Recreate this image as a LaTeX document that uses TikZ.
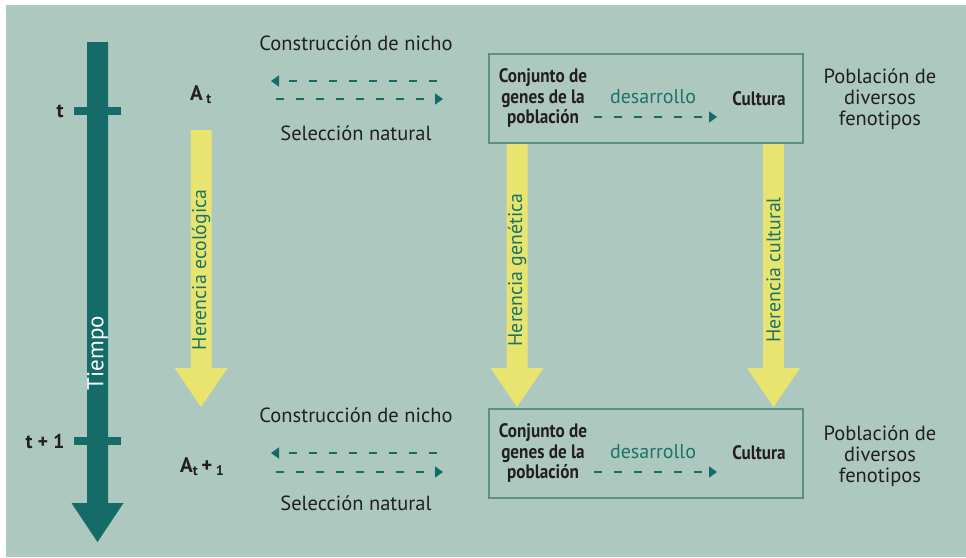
\documentclass[tikz,border=0pt]{standalone}
\usepackage{fontspec}
\setmainfont{PT Sans}
\newfontface\condbold[FakeStretch=0.88]{PT Sans Bold}
\usetikzlibrary{arrows.meta}
\definecolor{bgc}{HTML}{ADC8BF}
\definecolor{tealdark}{HTML}{156B67}
\definecolor{tealtxt}{HTML}{1B7467}
\definecolor{yel}{HTML}{E9E46F}
\definecolor{boxline}{HTML}{5F8F89}
\definecolor{ink}{HTML}{231F20}
\newcommand\yelarrow[2]{\fill[yel] (#1-10.5,#2) -- (#1+10.5,#2) -- (#1+10.5,368) -- (#1+26.5,368) -- (#1,407) -- (#1-26.5,368) -- (#1-10.5,368) -- cycle;}
\begin{document}
\begin{tikzpicture}[x=1pt,y=-1pt,
  txt/.style={inner sep=0pt, text=ink, font=\fontsize{20.5}{21}\selectfont, align=center},
  boldlbl/.style={inner sep=0pt, text=ink, font=\fontsize{20}{22}\selectfont\bfseries},
  cond/.style={inner sep=0pt, text=ink, font=\fontsize{19.5}{20.5}\selectfont\condbold, align=center},
  tealt/.style={inner sep=0pt, text=tealtxt, font=\fontsize{20}{21}\selectfont},
  vtxt/.style={inner sep=0pt, text=tealtxt, font=\fontsize{19.8}{21}\selectfont, rotate=90},
  box/.style={draw=boxline, line width=2pt, inner sep=0pt},
  dasharr/.style={draw=tealdark, line width=1.6pt, dash pattern=on 8pt off 12pt, -{Triangle[length=8pt,width=11pt]}}
]
\useasboundingbox (0,0) rectangle (966,557);
\fill[white] (0,0) rectangle (966,557);
\fill[bgc] (6,5) rectangle (966,557);

% time arrow
\coordinate (timetop) at (97.5,42);
\coordinate (timetip) at (97.5,542);
\fill[tealdark] (87,42) -- (108,42) -- (108,503) -- (123.5,503) -- (timetip) -- (71.5,503) -- (87,503) -- cycle;
\fill[tealdark] (74,107) rectangle (121,115);
\fill[tealdark] (74,437) rectangle (121,445);
\node[inner sep=0pt, text=white, font=\fontsize{23}{24}\selectfont, rotate=90] (tiempo) at (97.5,353) {Tiempo};
\node[boldlbl] (tlbl) at (60,111) {t};
\node[boldlbl] (t1lbl) at (45,442) {t + 1};

% A labels
\node[boldlbl, font=\fontsize{21}{22}\selectfont\bfseries, anchor=base west] (At) at (190,100) {A\,\raisebox{-3pt}{\fontsize{14}{14}\selectfont t}};
\node[boldlbl, font=\fontsize{21}{22}\selectfont\bfseries, anchor=base west] (At1) at (180,472) {A\raisebox{-3pt}{\fontsize{14}{14}\selectfont t}\,+\,\raisebox{-3pt}{\fontsize{14}{14}\selectfont 1}};

% boxes
\node[box, minimum width=314pt, minimum height=89pt] (topbox) at (646,98.5) {};
\node[box, minimum width=314pt, minimum height=89pt] (botbox) at (646,453.5) {};

% yellow arrows
\yelarrow{201}{130}
\yelarrow{517}{144}
\yelarrow{773.5}{144}
\node[vtxt] (hecol) at (201,270) {Herencia ecológica};
\node[vtxt] (hgen) at (517,270) {Herencia genética};
\node[vtxt] (hcul) at (773.5,270) {Herencia cultural};

% top box contents
\node[cond] (genes1) at (543,98) {Conjunto de\\genes de la\\población};
\node[cond] (cult1) at (759,99) {Cultura};
\node[tealt] (des1) at (653,97) {desarrollo};
\coordinate (d1s) at (594,117);
\coordinate (d1e) at (717,117);
\draw[dasharr] (d1s) -- (d1e);
\node[txt] (pop1) at (880,99) {Población de\\diversos\\fenotipos};

% bottom box contents
\node[cond] (genes2) at (543,453) {Conjunto de\\genes de la\\población};
\node[cond] (cult2) at (759,453) {Cultura};
\node[tealt] (des2) at (653,452) {desarrollo};
\coordinate (d2s) at (594,472);
\coordinate (d2e) at (717,472);
\draw[dasharr] (d2s) -- (d2e);
\node[txt] (pop2) at (880,456) {Población de\\diversos\\fenotipos};

% left: niche construction / selection (top)
\node[txt] (nicho1) at (356,43) {Construcción de nicho};
\node[txt] (sel1) at (356,133) {Selección natural};
\coordinate (n1s) at (437,81);
\coordinate (n1e) at (271,81);
\coordinate (s1s) at (276,99);
\coordinate (s1e) at (443,99);
\draw[dasharr] (n1s) -- (n1e);
\draw[dasharr] (s1s) -- (s1e);

% left: bottom
\node[txt] (nicho2) at (356,415) {Construcción de nicho};
\node[txt] (sel2) at (356,503) {Selección natural};
\coordinate (n2s) at (437,453);
\coordinate (n2e) at (271,453);
\coordinate (s2s) at (276,472);
\coordinate (s2e) at (443,472);
\draw[dasharr] (n2s) -- (n2e);
\draw[dasharr] (s2s) -- (s2e);
\end{tikzpicture}
\end{document}
